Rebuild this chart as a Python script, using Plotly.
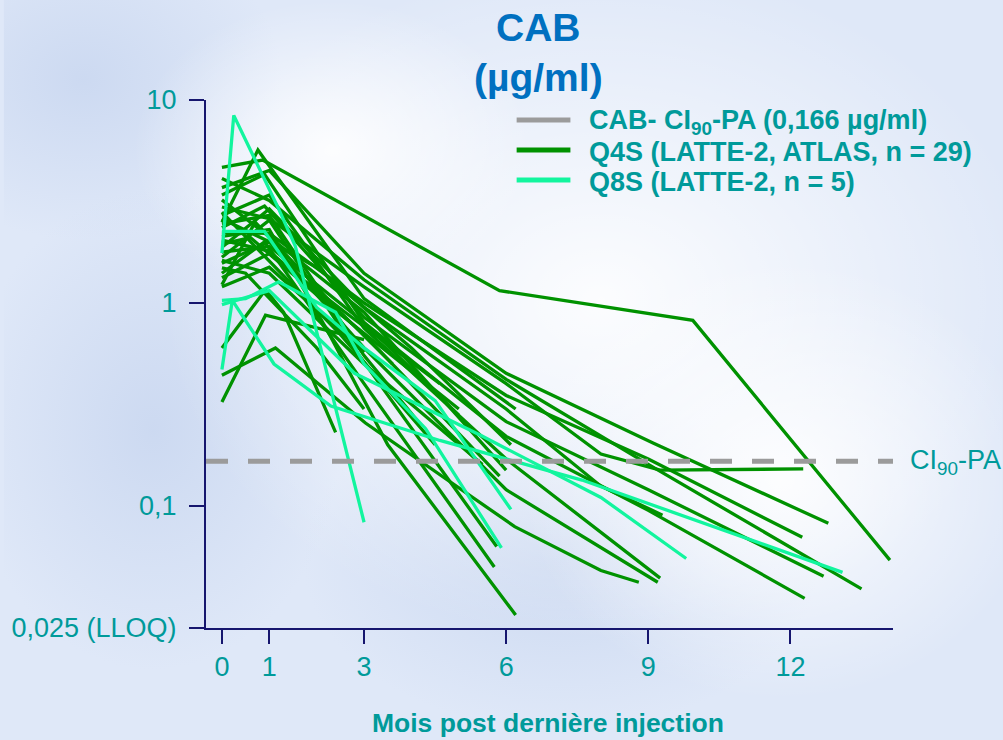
import base64
import plotly.graph_objects as go

# ---------------- data ----------------
X_TICKS = [0, 1, 3, 6, 9, 12]
Y_TICKS = [0.025, 0.1, 1, 10]
Y_TICKTEXT = ["0,025 (LLOQ)", "0,1", "1", "10"]
CI90_PA = 0.166

# Q4S (LATTE-2, ATLAS, n = 29): months post last injection / CAB (µg/ml)
Q4S_MONTHS = [
    [0, 0.86, 5.86, 9.94, 14.1],
    [0, 0.76, 3.0, 6.2],
    [0, 0.92, 3.0],
    [0, 1.13, 3.03, 6.18, 8.0, 8.8],
    [0, 0.92, 1.3, 2.4],
    [0, 1.0, 2.2, 3.5, 6.2],
    [0, 0.9, 3.0, 5.75],
    [0, 1.0, 2.9, 5.8],
    [0, 1.0, 3.0, 5.86],
    [0, 0.8, 3.0, 6.0],
    [0, 1.0, 3.0, 6.0, 8.0, 9.3],
    [0, 1.0, 3.0, 6.0, 9.25],
    [0, 1.0, 3.0, 6.0, 9.2],
    [0, 1.0, 3.0, 6.0, 8.0, 9.25, 12.27],
    [0, 1.0, 3.0, 6.0, 9.1, 12.8],
    [0, 1.0, 3.0, 6.0, 9.0, 12.25],
    [0, 0.9, 3.0, 6.0, 9.0, 12.7],
    [0, 1.0, 3.0, 6.0, 9.0, 13.5],
    [0, 1.0, 3.0, 6.0, 9.0, 12.3],
    [0, 1.0, 3.0],
    [0, 1.0, 2.5, 4.5],
    [0, 1.0, 3.0, 4.2],
    [0, 0.6, 2.2, 5.0],
    [0, 1.0, 2.6, 4.6],
    [0, 0.5, 2.0, 3.0],
    [0, 1.0, 3.0, 5.5],
    [0, 0.9, 3.0, 5.0],
    [0, 0.7, 2.5, 3.6],
    [0, 1.0, 2.0, 4.0, 6.1],
]
Q4S_CONC = [
    [4.65, 5.06, 1.15, 0.82, 0.054],
    [2.5, 5.67, 1.05, 0.30],
    [0.325, 0.87, 0.66],
    [0.44, 0.60, 0.256, 0.079, 0.048, 0.042],
    [0.60, 1.16, 0.9, 0.23],
    [2.13, 2.3, 0.75, 0.2, 0.029],
    [1.4, 2.0, 0.4, 0.05],
    [1.68, 2.56, 0.55, 0.063],
    [2.04, 1.8, 0.7, 0.14],
    [3.22, 2.3, 0.9, 0.15],
    [1.88, 2.9, 0.95, 0.3, 0.125, 0.09],
    [2.7, 3.4, 0.75, 0.17, 0.044],
    [1.57, 2.0, 0.6, 0.12, 0.042],
    [2.97, 2.6, 1.2, 0.4, 0.18, 0.15, 0.152],
    [3.7, 4.5, 1.4, 0.45, 0.204, 0.082],
    [2.23, 2.2, 1.0, 0.35, 0.17, 0.07],
    [2.35, 3.0, 0.85, 0.26, 0.12, 0.045],
    [4.1, 3.2, 1.3, 0.42, 0.16, 0.039],
    [1.78, 1.9, 0.8, 0.22, 0.095, 0.035],
    [1.2, 1.5, 0.57],
    [2.8, 1.6, 0.7, 0.2],
    [2.45, 2.7, 0.55, 0.25],
    [1.95, 2.1, 1.0, 0.3],
    [1.33, 1.75, 0.9, 0.4],
    [1.49, 1.4, 0.6, 0.3],
    [1.62, 1.4, 0.5, 0.16],
    [3.4, 4.3, 0.8, 0.28],
    [1.23, 2.5, 0.9, 0.5],
    [2.6, 2.0, 1.5, 0.6, 0.2],
]

# Q8S (LATTE-2, n = 5)
Q8S_MONTHS = [
    [0, 0.25, 1.2, 1.55, 3.0],
    [0, 0.22, 1.1, 2.3, 4.6, 7.6, 13.1],
    [0, 0.9, 2.0, 3.0, 4.5, 6.1],
    [0, 0.5, 1.2, 2.4, 3.0, 4.3, 5.9],
    [0, 1.0, 2.8, 5.5, 8.0, 9.8],
]
Q8S_CONC = [
    [1.76, 8.4, 2.9, 1.9, 0.083],
    [0.47, 1.03, 0.5, 0.31, 0.21, 0.134, 0.047],
    [2.25, 2.25, 0.95, 0.6, 0.33, 0.096],
    [1.03, 1.05, 1.27, 0.9, 0.5, 0.24, 0.062],
    [0.98, 1.15, 0.45, 0.22, 0.11, 0.055],
]

LEGEND_LABELS = [
    "CAB- CI<sub>90</sub>-PA (0,166 µg/ml)",
    "Q4S (LATTE-2, ATLAS, n = 29)",
    "Q8S (LATTE-2, n = 5)",
]

# ---------------- style ----------------
W, H = 1003, 740
L, R, T, B = 203, 893, 100, 628
X_RANGE = [-0.336, 14.165]
DARK = "#009200"
LIGHT = "#12F59E"
GREY = "#9B9B9B"
TEAL = "#009A9A"
NAVY = "#16166E"
BLUE = "#0070C0"
FONT = "Liberation Sans, Arial, sans-serif"


def px_x(px):
    return (px - L) / (R - L)


def px_y(py):
    return (B - py) / (B - T)


fig = go.Figure()

for m, v in zip(Q4S_MONTHS, Q4S_CONC):
    fig.add_trace(go.Scatter(x=m, y=v, mode="lines", showlegend=False,
                             line=dict(color=DARK, width=3.3), hoverinfo="skip"))
for m, v in zip(Q8S_MONTHS, Q8S_CONC):
    fig.add_trace(go.Scatter(x=m, y=v, mode="lines", showlegend=False,
                             line=dict(color=LIGHT, width=3.3), hoverinfo="skip"))

fig.add_trace(go.Scatter(x=X_RANGE, y=[CI90_PA, CI90_PA], mode="lines", showlegend=False,
                         line=dict(color=GREY, width=5, dash="22px,20px"), hoverinfo="skip"))

# background (soft cloudy light blue)
svg = f"""<svg xmlns='http://www.w3.org/2000/svg' width='{W}' height='{H}'>
<defs>
<radialGradient id='w' cx='0.5' cy='0.5' r='0.5'><stop offset='0' stop-color='#FFFFFF' stop-opacity='0.9'/><stop offset='1' stop-color='#FFFFFF' stop-opacity='0'/></radialGradient>
<radialGradient id='b' cx='0.5' cy='0.5' r='0.5'><stop offset='0' stop-color='#C4D3EE' stop-opacity='0.7'/><stop offset='1' stop-color='#C4D3EE' stop-opacity='0'/></radialGradient>
</defs>
<rect width='{W}' height='{H}' fill='#DFE8F8'/>
<ellipse cx='80' cy='80' rx='200' ry='160' fill='url(#b)'/>
<ellipse cx='150' cy='430' rx='190' ry='240' fill='url(#b)'/>
<ellipse cx='560' cy='560' rx='260' ry='170' fill='url(#b)'/>
<ellipse cx='600' cy='300' rx='440' ry='340' fill='url(#w)'/>
<ellipse cx='780' cy='480' rx='260' ry='220' fill='url(#w)'/>
<ellipse cx='330' cy='150' rx='200' ry='150' fill='url(#w)'/>
</svg>"""
src = "data:image/svg+xml;base64," + base64.b64encode(svg.encode()).decode()

shapes = []
annotations = []
legend_rows = [120, 150, 180]
legend_cols = [GREY, DARK, LIGHT]
for yy, col, lab in zip(legend_rows, legend_cols, LEGEND_LABELS):
    shapes.append(dict(type="line", xref="paper", yref="paper",
                       x0=px_x(515), x1=px_x(569), y0=px_y(yy), y1=px_y(yy),
                       line=dict(color=col, width=5)))
    annotations.append(dict(xref="paper", yref="paper", x=px_x(586), y=px_y(yy + 2),
                            xanchor="left", yanchor="middle", showarrow=False,
                            text=f"<b>{lab}</b>", font=dict(size=27, color=TEAL, family=FONT)))

annotations += [
    dict(xref="paper", yref="paper", x=px_x(537), y=px_y(28), xanchor="center", yanchor="middle",
         showarrow=False, text="<b>CAB</b>", font=dict(size=39, color=BLUE, family=FONT)),
    dict(xref="paper", yref="paper", x=px_x(537), y=px_y(77), xanchor="center", yanchor="middle",
         showarrow=False, text="<b>(µg/ml)</b>", font=dict(size=39, color=BLUE, family=FONT)),
    dict(xref="paper", yref="paper", x=px_x(908), y=px_y(462), xanchor="left", yanchor="middle",
         showarrow=False, text="CI<sub>90</sub>-PA", font=dict(size=27, color=TEAL, family=FONT)),
    dict(xref="paper", yref="paper", x=px_x(546), y=px_y(723), xanchor="center", yanchor="middle",
         showarrow=False, text="<b>Mois post dernière injection</b>",
         font=dict(size=26.5, color=TEAL, family=FONT)),
]

fig.update_layout(
    width=W, height=H, autosize=False,
    margin=dict(l=L, r=W - R, t=T, b=H - B, pad=0),
    paper_bgcolor="#DFE8F8", plot_bgcolor="rgba(0,0,0,0)",
    showlegend=False,
    shapes=shapes, annotations=annotations,
    images=[dict(source=src, xref="paper", yref="paper",
                 x=px_x(0), y=px_y(0), sizex=W / (R - L), sizey=H / (B - T),
                 xanchor="left", yanchor="top", sizing="stretch", layer="below")],
    font=dict(family=FONT, color=TEAL, size=27),
)
fig.update_xaxes(range=X_RANGE, tickvals=X_TICKS, ticktext=[str(t) for t in X_TICKS],
                 showgrid=False, zeroline=False, showline=True, linecolor=NAVY, linewidth=2,
                 ticks="outside", ticklen=14, tickwidth=2, tickcolor=NAVY,
                 tickfont=dict(size=27, color=TEAL, family=FONT))
fig.update_yaxes(type="log", range=[-1.60206, 1], tickvals=Y_TICKS, ticktext=Y_TICKTEXT,
                 showgrid=False, zeroline=False, showline=True, linecolor=NAVY, linewidth=2,
                 ticks="outside", ticklen=15, tickwidth=2, tickcolor=NAVY, ticklabelstandoff=7,
                 tickfont=dict(size=27, color=TEAL, family=FONT))

fig.write_html("out.html")
